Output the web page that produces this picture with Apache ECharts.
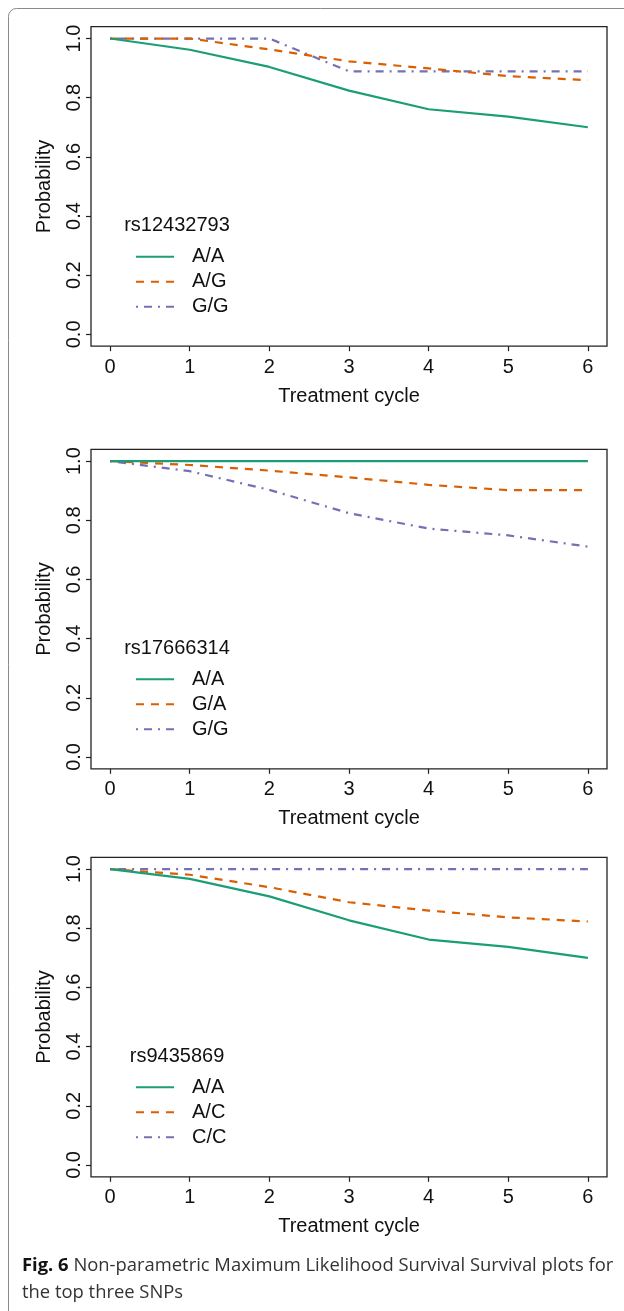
<!DOCTYPE html>
<html>
<head>
<meta charset="utf-8">
<script src="https://cdn.jsdelivr.net/npm/echarts@6/dist/echarts.min.js"></script>
<style>
  html, body { margin: 0; padding: 0; background: #fff; }
  #main { width: 624px; height: 1311px; }
</style>
</head>
<body>
<div id="main"></div>
<script>
// data
var cycles = [0, 1, 2, 3, 4, 5, 6];
var yTicks = [0, 0.2, 0.4, 0.6, 0.8, 1.0];

var snps = ['rs12432793', 'rs17666314', 'rs9435869'];

var p1_AA = [1.0, 0.962, 0.904, 0.824, 0.761, 0.736, 0.700];
var p1_AG = [1.0, 1.0, 0.963, 0.923, 0.899, 0.873, 0.859];
var p1_GG = [1.0, 1.0, 1.0, 0.889, 0.889, 0.889, 0.889];

var p2_AA = [1.0, 1.0, 1.0, 1.0, 1.0, 1.0, 1.0];
var p2_GA = [1.0, 0.987, 0.968, 0.945, 0.920, 0.902, 0.902];
var p2_GG = [1.0, 0.966, 0.903, 0.824, 0.772, 0.749, 0.711];

var p3_AA = [1.0, 0.967, 0.908, 0.827, 0.762, 0.737, 0.700];
var p3_AC = [1.0, 0.981, 0.939, 0.888, 0.860, 0.837, 0.823];
var p3_CC = [1.0, 1.0, 1.0, 1.0, 1.0, 1.0, 1.0];

var names1 = ['A/A', 'A/G', 'G/G'];
var names2 = ['A/A', 'G/A', 'G/G'];
var names3 = ['A/A', 'A/C', 'C/C'];

window.onload = function() {
  var chart = echarts.init(document.getElementById('main'), null, { renderer: 'canvas' });

  var FONT = 'Liberation Sans, Arial, sans-serif';
  var colors = ['#1B9E77', '#D95F02', '#7570B3'];
  var dashes = ['solid', [8, 7], [2, 6, 8, 6]];
  var tops = [26.7, 449.3, 857.3];
  var plotH = 319.5;

  function pts(vals) {
    return cycles.map(function(c, i) { return [c, vals[i]]; });
  }

  var grids = [], xAxes = [], yAxes = [], series = [], legends = [], graphics = [];
  var panels = [
    { names: names1, vals: [p1_AA, p1_AG, p1_GG] },
    { names: names2, vals: [p2_AA, p2_GA, p2_GG] },
    { names: names3, vals: [p3_AA, p3_AC, p3_CC] }
  ];

  panels.forEach(function(p, k) {
    grids.push({
      left: 91, top: tops[k], width: 516, height: plotH,
      show: true, borderColor: '#222', borderWidth: 1.3, backgroundColor: 'transparent'
    });
    xAxes.push({
      type: 'value', gridIndex: k, min: -0.24, max: 6.24,
      name: 'Treatment cycle', nameLocation: 'middle', nameGap: 40,
      nameTextStyle: { fontFamily: FONT, fontSize: 20, color: '#111' },
      axisLine: { show: false, onZero: false },
      axisTick: { show: true, length: 5, customValues: cycles, lineStyle: { color: '#222', width: 1.2 } },
      axisLabel: { customValues: cycles, margin: 11, fontFamily: FONT, fontSize: 20, color: '#111' },
      splitLine: { show: false }
    });
    yAxes.push({
      type: 'value', gridIndex: k, min: -0.04, max: 1.04,
      name: 'Probability', nameLocation: 'middle', nameGap: 37, nameRotate: 90,
      nameTextStyle: { fontFamily: FONT, fontSize: 20, color: '#111' },
      axisLine: { show: false, onZero: false },
      axisTick: { show: true, length: 5, customValues: yTicks, lineStyle: { color: '#222', width: 1.2 } },
      axisLabel: {
        customValues: yTicks, rotate: 90, margin: 7, fontFamily: FONT, fontSize: 20, color: '#111',
        formatter: function(v) { return v.toFixed(1); }
      },
      splitLine: { show: false }
    });
    p.names.forEach(function(nm, j) {
      series.push({
        name: nm, type: 'line', xAxisIndex: k, yAxisIndex: k,
        data: pts(p.vals[j]), symbol: 'none', silent: true,
        lineStyle: { color: colors[j], width: 2.2, type: dashes[j], cap: 'butt' },
        itemStyle: { color: colors[j] },
        z: 3 - j
      });
    });
    legends.push({
      data: p.names, orient: 'vertical', left: 135, top: tops[k] + 220,
      padding: 0, itemWidth: 38, itemHeight: 20, itemGap: 5,
      selectedMode: false,
      itemStyle: { opacity: 0 },
      textStyle: { fontFamily: FONT, fontSize: 20, color: '#111', padding: [0, 0, 0, 13] }
    });
    graphics.push({
      type: 'text', x: 177, y: tops[k] + 199,
      style: { text: snps[k], fontFamily: FONT, fontSize: 20, fill: '#111', align: 'center', verticalAlign: 'middle' }
    });
  });

  // outer frame and caption
  graphics.push({
    type: 'rect', shape: { x: 8.5, y: 8.5, width: 700, height: 1400, r: 8 },
    style: { fill: 'none', stroke: '#8a8a8a', lineWidth: 1 }, z: -1
  });
  graphics.push({
    type: 'text', x: 22, y: 1252,
    style: {
      text: '{b|Fig. 6} Non-parametric Maximum Likelihood Survival Survival plots for\nthe top three SNPs',
      fontFamily: 'Open Sans, Noto Sans, sans-serif', fontSize: 18.4, fill: '#333', lineHeight: 27,
      rich: { b: { fontFamily: 'Open Sans, Noto Sans, sans-serif', fontSize: 18.4, fontWeight: 'bold', fill: '#111' } }
    }
  });

  chart.setOption({
    backgroundColor: '#fff',
    animation: false,
    grid: grids,
    xAxis: xAxes,
    yAxis: yAxes,
    legend: legends,
    series: series,
    graphic: graphics
  });
};
</script>
</body>
</html>
